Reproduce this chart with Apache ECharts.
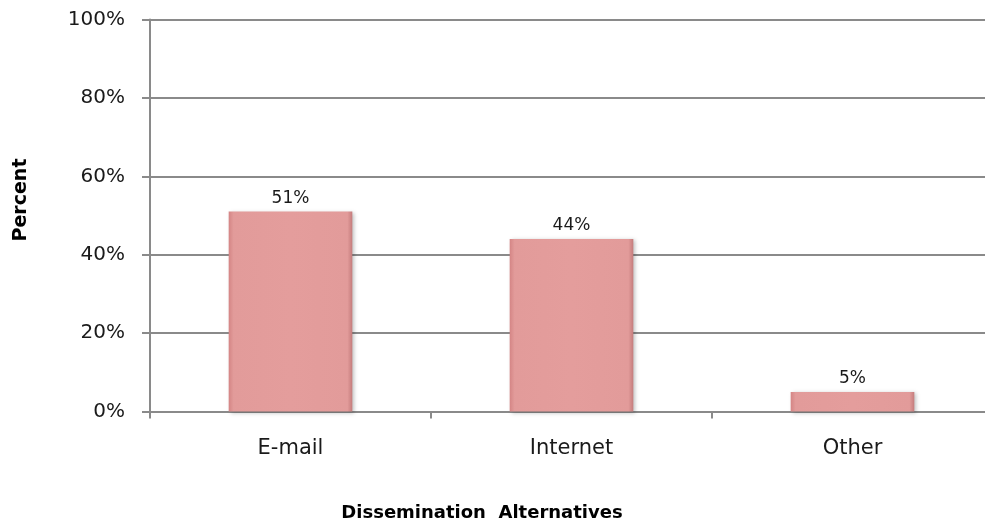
<!DOCTYPE html>
<html>
<head>
<meta charset="utf-8">
<script src="https://cdn.jsdelivr.net/npm/echarts@6/dist/echarts.min.js"></script>
<style>
html,body{margin:0;padding:0;background:#fff;overflow:hidden;width:985px;height:527px;}
#chart{width:993px;height:527px;}
</style>
</head>
<body>
<div id="chart"></div>
<script>
var categories = ['E-mail', 'Internet', 'Other'];
var values = [51, 44, 5];
var yTicks = [0, 20, 40, 60, 80, 100];
var xTitle = 'Dissemination  Alternatives';
var yTitle = 'Percent';

var chart = echarts.init(document.getElementById('chart'));
var barColor = {
  type: 'linear', x: 0, y: 0, x2: 1, y2: 0,
  colorStops: [
    {offset: 0, color: '#d48585'},
    {offset: 0.04, color: '#e29b9a'},
    {offset: 0.5, color: '#e49d9c'},
    {offset: 0.96, color: '#e29b9a'},
    {offset: 1, color: '#c47c7c'}
  ]
};
chart.setOption({
  animation: false,
  grid: {left: 150, right: 0, top: 19.5, bottom: 115.5, containLabel: false},
  xAxis: {
    type: 'category',
    data: categories,
    axisLine: {lineStyle: {color: '#8a8a8a', width: 2}},
    axisTick: {show: true, length: 7, lineStyle: {color: '#8a8a8a', width: 2}},
    axisLabel: {color: '#1a1a1a', fontFamily: 'DejaVu Sans', fontSize: 21, margin: 27}
  },
  yAxis: {
    type: 'value',
    min: yTicks[0], max: yTicks[yTicks.length - 1], interval: 20,
    axisLine: {show: true, lineStyle: {color: '#8a8a8a', width: 2}},
    axisTick: {show: true, length: 8, lineStyle: {color: '#8a8a8a', width: 2}},
    splitLine: {lineStyle: {color: '#8a8a8a', width: 2}},
    axisLabel: {color: '#1a1a1a', fontFamily: 'DejaVu Sans', fontSize: 20, margin: 25,
      formatter: function (v) { return v + '%'; }}
  },
  series: [{
    type: 'bar',
    data: values,
    barWidth: '44%',
    itemStyle: {
      color: barColor,
      shadowColor: 'rgba(0,0,0,0.25)', shadowBlur: 4, shadowOffsetX: 2, shadowOffsetY: 1
    },
    label: {
      show: true, position: 'top', distance: 5,
      color: '#1a1a1a', fontFamily: 'DejaVu Sans', fontSize: 17,
      formatter: function (p) { return p.value + '%'; }
    }
  }],
  graphic: [
    {type: 'text', x: 482, y: 513, style: {text: xTitle, fontFamily: 'DejaVu Sans', fontWeight: 'bold', fontSize: 18, fill: '#000', textAlign: 'center', textVerticalAlign: 'middle'}},
    {type: 'text', x: 21, y: 200, rotation: Math.PI / 2, style: {text: yTitle, fontFamily: 'DejaVu Sans', fontWeight: 'bold', fontSize: 19, fill: '#000', textAlign: 'center', textVerticalAlign: 'middle'}}
  ]
});
</script>
</body>
</html>
